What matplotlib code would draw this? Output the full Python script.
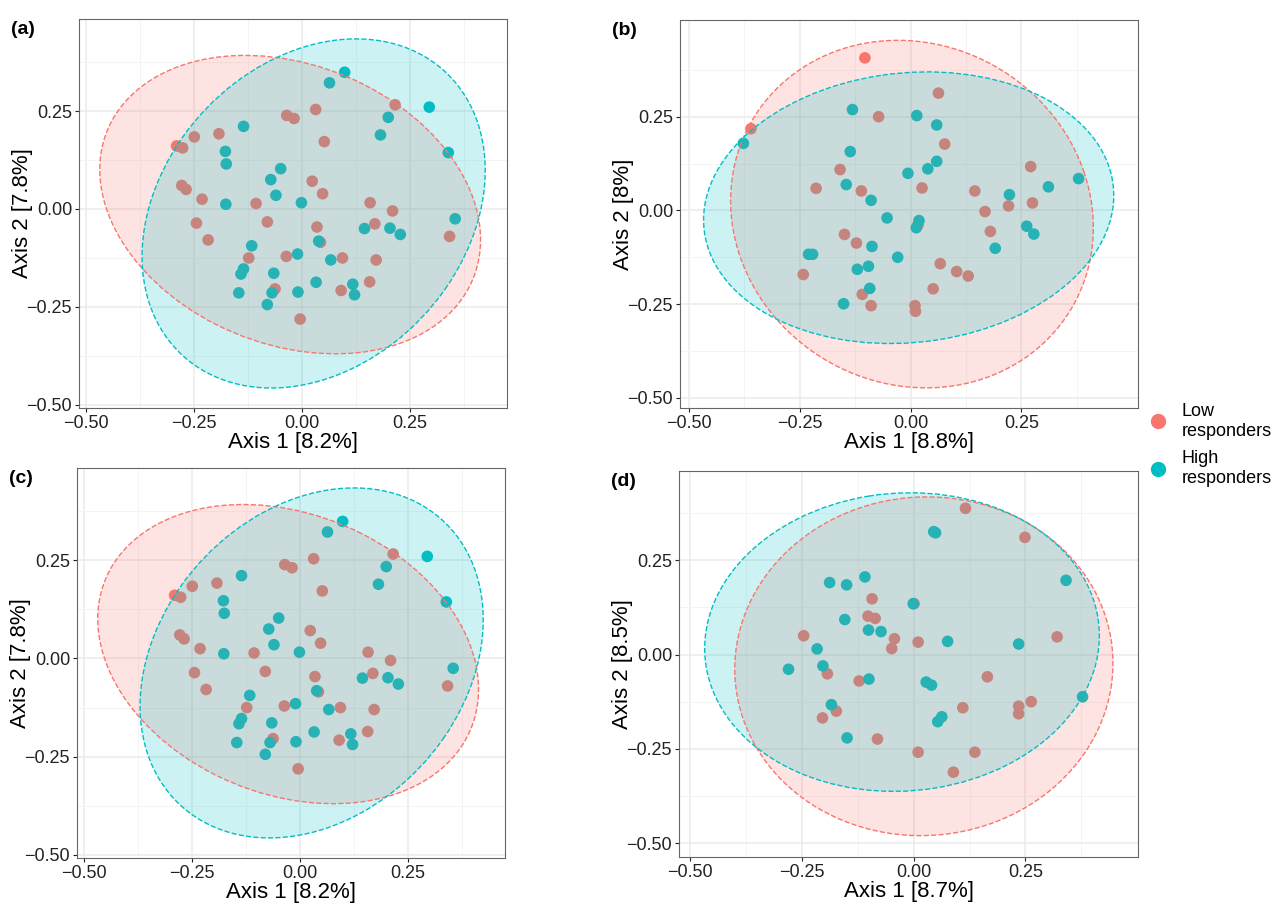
import numpy as np
import matplotlib
matplotlib.use("Agg")
import matplotlib.pyplot as plt
from matplotlib.patches import Ellipse
from matplotlib.lines import Line2D

plt.rcParams['font.family'] = ['Liberation Sans', 'DejaVu Sans']

RED = "#F8766D"
TEAL = "#00BFC4"

# panel (a) / (c): low responders
a_low_x = [-0.29, -0.276, -0.249, -0.192, -0.278, -0.268, -0.231, -0.244, -0.217, -0.106, -0.080, -0.123,
           -0.035, -0.018, 0.032, 0.052, 0.024, 0.048, 0.035, 0.043, -0.036, -0.062, -0.004, 0.094,
           0.091, 0.157, 0.172, 0.169, 0.158, 0.210, 0.216, 0.342]
a_low_y = [0.161, 0.156, 0.184, 0.192, 0.060, 0.050, 0.025, -0.036, -0.079, 0.014, -0.033, -0.125,
           0.239, 0.231, 0.254, 0.172, 0.071, 0.039, -0.046, -0.085, -0.121, -0.204, -0.281, -0.125,
           -0.208, -0.186, -0.130, -0.038, 0.016, -0.005, 0.266, -0.070]
a_high_x = [0.099, 0.064, 0.295, 0.200, 0.182, 0.339, 0.355, 0.145, 0.204, 0.228, -0.135, -0.177,
            -0.175, -0.176, -0.049, -0.072, -0.060, -0.001, -0.116, -0.135, -0.141, -0.146, -0.065, -0.069,
            -0.080, -0.010, -0.009, 0.033, 0.039, 0.067, 0.118, 0.122]
a_high_y = [0.349, 0.322, 0.260, 0.234, 0.189, 0.144, -0.025, -0.050, -0.049, -0.065, 0.211, 0.147,
            0.115, 0.012, 0.103, 0.075, 0.035, 0.016, -0.094, -0.153, -0.166, -0.214, -0.164, -0.214,
            -0.244, -0.115, -0.212, -0.187, -0.082, -0.130, -0.192, -0.219]

# panel (b)
b_low_x = [-0.103, -0.360, 0.063, -0.072, 0.077, -0.159, -0.213, -0.111, 0.026, 0.145, 0.271, 0.275,
           0.168, 0.221, 0.180, 0.017, -0.149, -0.122, -0.242, -0.109, -0.089, 0.010, 0.011, 0.051,
           0.067, 0.104, 0.130]
b_low_y = [0.407, 0.218, 0.313, 0.250, 0.177, 0.109, 0.059, 0.052, 0.060, 0.052, 0.117, 0.020,
           -0.003, 0.012, -0.056, -0.038, -0.064, -0.087, -0.171, -0.224, -0.254, -0.254, -0.269, -0.209,
           -0.142, -0.163, -0.175]
b_high_x = [-0.377, -0.131, 0.014, 0.059, -0.136, 0.059, 0.039, -0.006, -0.145, -0.089, -0.053, 0.019,
            0.013, 0.223, 0.311, 0.379, 0.262, 0.278, 0.191, -0.087, -0.029, -0.230, -0.221, -0.120,
            -0.095, -0.092, -0.151]
b_high_y = [0.179, 0.269, 0.253, 0.228, 0.157, 0.131, 0.111, 0.099, 0.069, 0.027, -0.020, -0.027,
            -0.046, 0.042, 0.063, 0.085, -0.042, -0.063, -0.101, -0.096, -0.125, -0.117, -0.117, -0.157,
            -0.149, -0.208, -0.249]

# panel (d)
d_low_x = [0.116, 0.249, -0.093, -0.102, -0.086, -0.246, -0.043, -0.049, 0.010, 0.001, 0.321, 0.165,
           -0.193, -0.122, -0.173, -0.204, -0.081, 0.010, 0.137, 0.089, 0.110, 0.235, 0.235, 0.263]
d_low_y = [0.388, 0.311, 0.148, 0.102, 0.096, 0.050, 0.042, 0.016, 0.033, 0.135, 0.047, -0.059,
           -0.051, -0.070, -0.150, -0.168, -0.224, -0.259, -0.259, -0.312, -0.141, -0.137, -0.157, -0.125]
d_high_x = [0.045, 0.049, -0.188, -0.150, -0.109, -0.001, -0.154, -0.101, -0.073, 0.076, 0.235, 0.341,
            0.378, -0.216, -0.280, -0.203, -0.100, 0.028, 0.040, -0.184, 0.063, 0.054, -0.149]
d_high_y = [0.326, 0.323, 0.191, 0.185, 0.206, 0.135, 0.093, 0.065, 0.061, 0.035, 0.028, 0.197,
            -0.112, 0.015, -0.039, -0.030, -0.065, -0.073, -0.081, -0.133, -0.165, -0.178, -0.221]

panels = [
    ("(a)", a_low_x, a_low_y, a_high_x, a_high_y, "Axis 1 [8.2%]", "Axis 2 [7.8%]",
     [79, 19, 507, 408], (-0.516, 0.475), (-0.508, 0.485)),
    ("(b)", b_low_x, b_low_y, b_high_x, b_high_y, "Axis 1 [8.8%]", "Axis 2 [8%]",
     [680, 20, 1138, 408], (-0.52, 0.513), (-0.527, 0.508)),
    ("(c)", a_low_x, a_low_y, a_high_x, a_high_y, "Axis 1 [8.2%]", "Axis 2 [7.8%]",
     [77, 468, 505, 858], (-0.516, 0.475), (-0.508, 0.485)),
    ("(d)", d_low_x, d_low_y, d_high_x, d_high_y, "Axis 1 [8.7%]", "Axis 2 [8.5%]",
     [679, 471, 1138, 857], (-0.525, 0.502), (-0.537, 0.487)),
]

W, H = 1272, 908
fig = plt.figure(figsize=(W / 100, H / 100), dpi=100)
SCALE = 2.55  # roughly 95% level


def add_ellipse(ax, x, y, color):
    x = np.asarray(x); y = np.asarray(y)
    cov = np.cov(x, y)
    vals, vecs = np.linalg.eigh(cov)
    ang = np.degrees(np.arctan2(vecs[1, 1], vecs[0, 1]))
    w, h = 2 * SCALE * np.sqrt(vals[1]), 2 * SCALE * np.sqrt(vals[0])
    c = (x.mean(), y.mean())
    ax.add_patch(Ellipse(c, w, h, angle=ang, facecolor=color, alpha=0.2, edgecolor="none", zorder=3))
    ax.add_patch(Ellipse(c, w, h, angle=ang, facecolor="none", edgecolor=color, ls="--", lw=1, zorder=4))


for tag, lx, ly, hx, hy, xl, yl, box, xlim, ylim in panels:
    x0, y0, x1, y1 = box
    ax = fig.add_axes([x0 / W, 1 - y1 / H, (x1 - x0) / W, (y1 - y0) / H])
    ax.scatter(lx, ly, s=70, color=RED, edgecolors="none", zorder=2)
    ax.scatter(hx, hy, s=70, color=TEAL, edgecolors="none", zorder=2)
    add_ellipse(ax, lx, ly, RED)
    add_ellipse(ax, hx, hy, TEAL)
    ax.set_xlim(*xlim)
    ax.set_ylim(*ylim)
    ticks = [-0.5, -0.25, 0.0, 0.25]
    ax.set_xticks(ticks)
    ax.set_yticks(ticks)
    ax.set_xticklabels(["−0.50", "−0.25", "0.00", "0.25"])
    ax.set_yticklabels(["−0.50", "−0.25", "0.00", "0.25"])
    ax.set_xticks([-0.375, -0.125, 0.125, 0.375], minor=True)
    ax.set_yticks([-0.375, -0.125, 0.125, 0.375], minor=True)
    ax.grid(which="major", color="#ebebeb", lw=1.1, zorder=0)
    ax.grid(which="minor", color="#f4f4f4", lw=0.7, zorder=0)
    ax.set_axisbelow(True)
    ax.tick_params(labelsize=13, colors="#222222", length=3, pad=2, which="major")
    ax.tick_params(which="minor", length=0)
    for sp in ax.spines.values():
        sp.set_color("#666666")
    ax.set_xlabel(xl, fontsize=16, labelpad=0)
    ax.set_ylabel(yl, fontsize=16)
    ax.yaxis.set_label_coords(-46 / (x1 - x0), 0.5)
    fig.text((x0 - 68) / W, 1 - (y0 + 2) / H, tag, fontsize=14, fontweight="bold", va="top")

handles = [Line2D([], [], marker="o", ls="none", color=RED, markersize=10),
           Line2D([], [], marker="o", ls="none", color=TEAL, markersize=10)]
fig.legend(handles, ["Low\nresponders", "High\nresponders"], loc="center left",
           bbox_to_anchor=(1133 / W, 1 - 445 / H), frameon=False, fontsize=13,
           handletextpad=0.3, labelspacing=0.6, borderaxespad=0)

fig.savefig("out.png", dpi=100)
